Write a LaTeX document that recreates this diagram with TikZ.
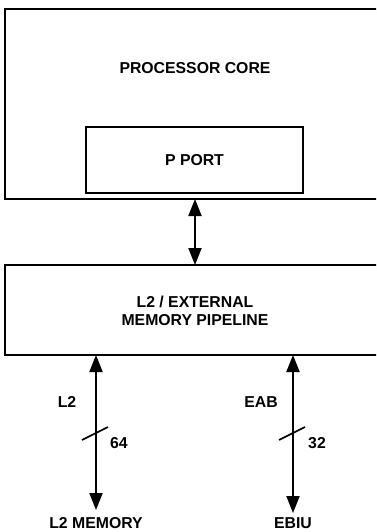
\documentclass[tikz,border=0pt]{standalone}
\usepackage{fontspec}
\setmainfont{Liberation Sans}
\usetikzlibrary{arrows.meta}
\begin{document}
\begin{tikzpicture}[x=1pt,y=-1pt,
  box/.style={draw,line width=2pt,inner sep=0pt},
  lbl/.style={font=\bfseries\fontsize{15.8}{18}\selectfont,inner sep=0pt,align=center},
  bus/.style={line width=2pt,{Triangle[length=17pt,width=13pt]}-{Triangle[length=17pt,width=13pt]}},
  tick/.style={line width=1.6pt}]
\useasboundingbox (0,0) rectangle (376,532);
\clip (0,0) rectangle (376,532);
\fill[white] (0,0) rectangle (376,532);
% boxes
\draw[box] (5,9) rectangle (390,199);
\node[box,minimum width=217pt,minimum height=66pt] (pport) at (194.5,160) {};
\node[lbl] at (pport.center) {P PORT};
\node[lbl] (core) at (195,68) {PROCESSOR CORE};
\draw[box] (5,265) rectangle (390,355);
\node[lbl] (pipe) at (195,310.5) {L2 / EXTERNAL\\[0pt]MEMORY PIPELINE};
% connectors
\coordinate (c1) at (195,199);
\coordinate (c2) at (195,265);
\draw[bus] (c1) -- (c2);
\coordinate (l1) at (96,355);
\coordinate (l2) at (96,510);
\draw[bus] (l1) -- (l2);
\coordinate (e1) at (293,355);
\coordinate (e2) at (293,513);
\draw[bus] (e1) -- (e2);
% bus width ticks
\draw[tick] (82,440) -- (108,427);
\draw[tick] (279,440) -- (305,427);
\node[lbl] (n64) at (119,443) {64};
\node[lbl] (n32) at (317,443) {32};
\node[lbl] (l2lab) at (67,402) {L2};
\node[lbl] (eab) at (261,402) {EAB};
\node[lbl] (l2mem) at (96,523) {L2 MEMORY};
\node[lbl] (ebiu) at (293,523) {EBIU};
\end{tikzpicture}
\end{document}
